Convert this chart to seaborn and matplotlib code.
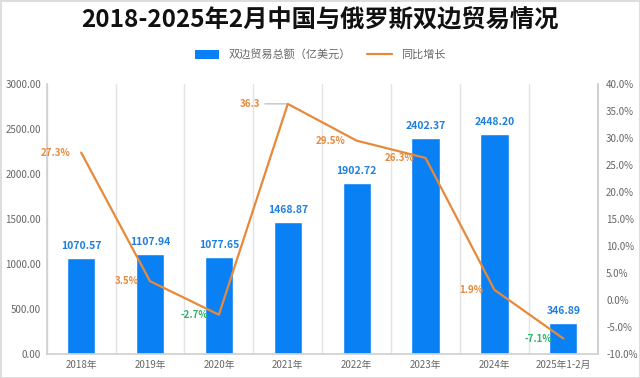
import numpy as np
import pandas as pd
import matplotlib.pyplot as plt
import seaborn as sns
from matplotlib.lines import Line2D
from matplotlib.patches import Patch

years = ['2018年', '2019年', '2020年', '2021年', '2022年', '2023年', '2024年', '2025年1-2月']
trade = [1070.57, 1107.94, 1077.65, 1468.87, 1902.72, 2402.37, 2448.20, 346.89]
growth = [27.3, 3.5, -2.7, 36.3, 29.5, 26.3, 1.9, -7.1]

bar_color = '#0A80F5'
line_color = '#E8893A'
neg_color = '#2DB36B'
tick_color = '#666666'

sns.set_theme(style='white')
plt.rcParams['font.family'] = ['Noto Sans CJK SC', 'DejaVu Sans']

df = pd.DataFrame({'year': years, 'trade': trade, 'growth': growth})

fig = plt.figure(figsize=(6.4, 3.78), dpi=100)
fig.patch.set_edgecolor('#DDDDDD')
fig.patch.set_linewidth(2)
ax = fig.add_axes([0.073, 0.063, 0.861, 0.715])

sns.barplot(data=df, x='year', y='trade', color=bar_color, width=0.41,
            saturation=1, ax=ax)
ax.set_xlim(-0.5, len(years) - 0.5)
ax.set_ylim(0, 3000)
ax.set_yticks(np.arange(0, 3001, 500))
ax.set_yticklabels([f'{v:.2f}' for v in np.arange(0, 3001, 500)])
ax.set_xlabel('')
ax.set_ylabel('')
for i in range(len(years) + 1):
    ax.axvline(i - 0.5, color='#E3E3E3', lw=1, zorder=0)
ax.spines['top'].set_visible(False)
for s in ['left', 'right', 'bottom']:
    ax.spines[s].set_color('#D0D0D0')
ax.tick_params(axis='both', labelsize=7, colors=tick_color, length=0, pad=4)

# bar value labels
for i, v in enumerate(trade):
    ax.annotate(f'{v:.2f}', xy=(i, v), xytext=(0, 5), textcoords='offset points',
                ha='center', va='bottom', fontsize=7.5, fontweight='bold', color='#1F7FE0')

ax2 = ax.twinx()
x = np.arange(len(years))
sns.lineplot(x=x, y=growth, ax=ax2, color=line_color, lw=1.6, sort=False)
ax2.set_ylim(-10, 40)
ax2.set_yticks(np.arange(-10, 41, 5))
ax2.set_yticklabels([f'{v:.1f}%' for v in np.arange(-10, 41, 5)])
ax2.tick_params(axis='y', labelsize=7, colors=tick_color, length=0, pad=6)
for s in ['top', 'left', 'bottom']:
    ax2.spines[s].set_visible(False)
ax2.spines['right'].set_color('#D0D0D0')

# growth labels, to the left of each point
for i, g in enumerate(growth):
    c = neg_color if g < 0 else line_color
    if i == 3:
        ax2.annotate(f'{g:.1f}', xy=(i, g), xytext=(-20, 0), textcoords='offset points',
                     ha='right', va='center', fontsize=7, fontweight='bold', color=c,
                     arrowprops=dict(arrowstyle='-', color='#999999', lw=0.6,
                                     shrinkA=1, shrinkB=0))
    else:
        ax2.annotate(f'{g:.1f}%', xy=(i, g), xytext=(-8, 0), textcoords='offset points',
                     ha='right', va='center', fontsize=7, fontweight='bold', color=c)

fig.text(0.5, 0.945, '2018-2025年2月中国与俄罗斯双边贸易情况', ha='center', va='center',
         fontsize=17.5, fontweight='bold', color='#111111')
handles = [Patch(facecolor=bar_color, edgecolor='none'),
           Line2D([0], [0], color=line_color, lw=1.6)]
fig.legend(handles, ['双边贸易总额（亿美元）', '同比增长'], loc='center',
           bbox_to_anchor=(0.5, 0.855), ncol=2, frameon=False, fontsize=8,
           labelcolor='#666666', handlelength=2.2, handleheight=0.8, columnspacing=1.5)

fig.savefig('out.png', dpi=100)
